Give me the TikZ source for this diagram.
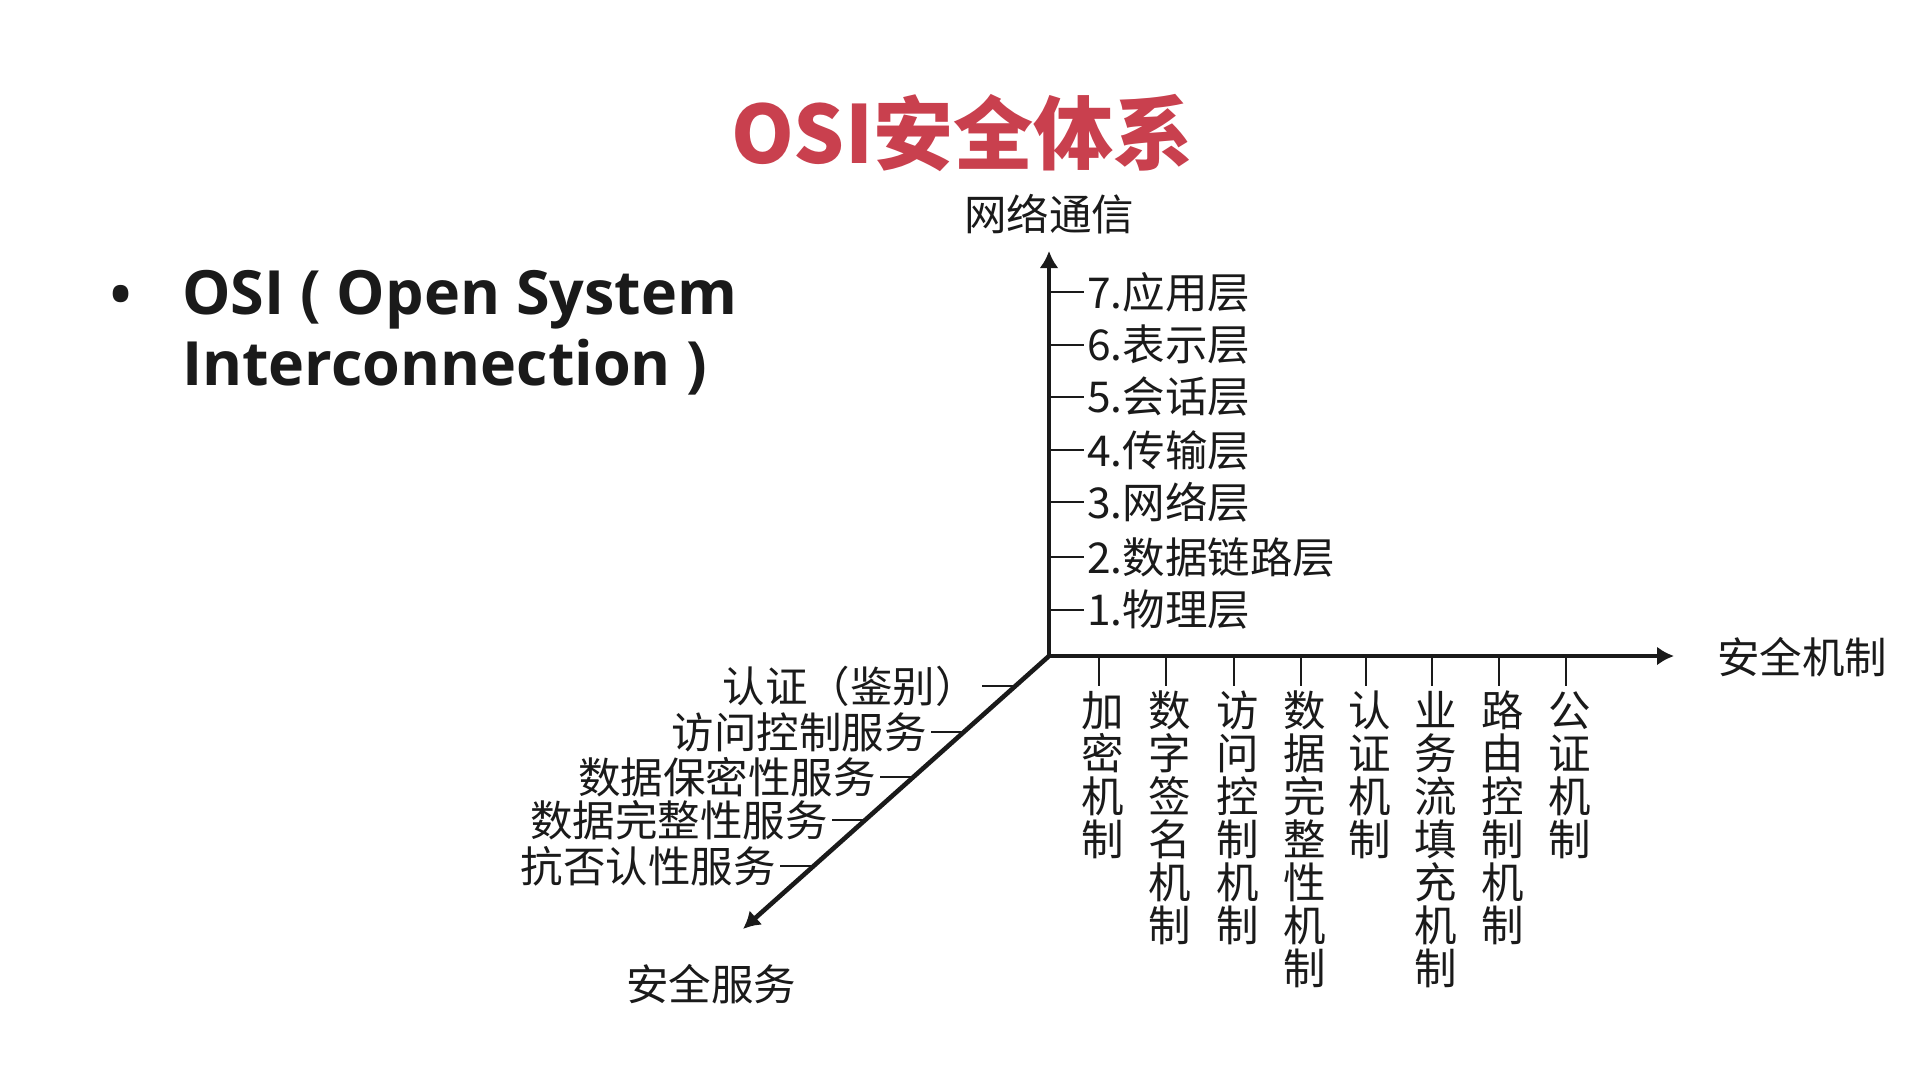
\documentclass[tikz,border=0pt]{standalone}
\usepackage{fontspec}
\setmainfont{Noto Sans CJK SC}
\newfontfamily\latinbold{Open Sans}
\usetikzlibrary{arrows.meta}
\definecolor{titlered}{HTML}{C9404E}
\definecolor{ink}{HTML}{1A1A1A}
\begin{document}
\begin{tikzpicture}[x=1pt,y=-1pt,
  axisline/.style={line width=4.6pt, draw=ink, -{Latex[length=17pt,width=19pt]}},
  tickline/.style={line width=2.2pt, draw=ink},
  lbl/.style={font=\fontsize{42.5}{43}\selectfont, text=ink, inner sep=0pt},
  vlbl/.style={lbl, align=center, anchor=north},
  axislbl/.style={lbl},
]
\useasboundingbox (0,0) rectangle (1909,1072);
\fill[white] (0,0) rectangle (1909,1072);

% title and bullet
\node[font=\fontsize{80}{82}\selectfont\bfseries, text=titlered, inner sep=0pt] (title) at (962,133) {OSI安全体系};
\node[font=\fontsize{56}{70}\selectfont\latinbold\bfseries, text=ink, inner sep=0pt, anchor=west] (bullet) at (110,300) {•};
\node[font=\fontsize{61}{71}\selectfont\latinbold\bfseries, text=ink, inner sep=0pt, anchor=north west, align=left] (osi) at (182,270) {OSI ( Open System\\Interconnection )};

% axes
\coordinate (O) at (1049,656);
\coordinate (up) at (1049,251);
\coordinate (right) at (1674,656);
\coordinate (down) at (743,929);
\draw[axisline] (O) -- (up);
\draw[axisline] (O) -- (right);
\draw[axisline] (O) -- (down);

\node[axislbl] (net) at (1049,214) {网络通信};
\node[axislbl] (mech) at (1802,657) {安全机制};
\node[axislbl] (serv) at (711,984) {安全服务};

% OSI layers on the vertical axis
\foreach \y/\t [count=\i] in {292/7.应用层, 345/6.表示层, 397/5.会话层, 450/4.传输层, 502/3.网络层, 557/2.数据链路层, 610/1.物理层}{
  \coordinate (la\i) at (1049,\y);
  \coordinate (lb\i) at (1084,\y);
  \draw[tickline] (la\i) -- (lb\i);
  \node[lbl, anchor=west] (layer\i) at (1087,\y) {\t};
}

% security mechanisms on the horizontal axis
\foreach \x/\t [count=\i] in {1099/加\\密\\机\\制, 1166/数\\字\\签\\名\\机\\制, 1234/访\\问\\控\\制\\机\\制, 1301/数\\据\\完\\整\\性\\机\\制, 1366/认\\证\\机\\制, 1432/业\\务\\流\\填\\充\\机\\制, 1499/路\\由\\控\\制\\机\\制, 1566/公\\证\\机\\制}{
  \coordinate (ma\i) at (\x,656);
  \coordinate (mb\i) at (\x,686);
  \draw[tickline] (ma\i) -- (mb\i);
  \node[vlbl] (mech\i) at (\x+4,691) {\t};
}

% security services on the diagonal axis
\foreach \y/\xa/\t [count=\i] in {686/1016/认证（鉴别）, 732/965/访问控制服务, 777/914/数据保密性服务, 820/866/数据完整性服务, 866/814/抗否认性服务}{
  \coordinate (sa\i) at (\xa,\y);
  \coordinate (sb\i) at (\xa-34,\y);
  \draw[tickline] (sa\i) -- (sb\i);
  \node[lbl, anchor=east] (serv\i) at (\xa-38,\y) {\t};
}
\end{tikzpicture}
\end{document}
